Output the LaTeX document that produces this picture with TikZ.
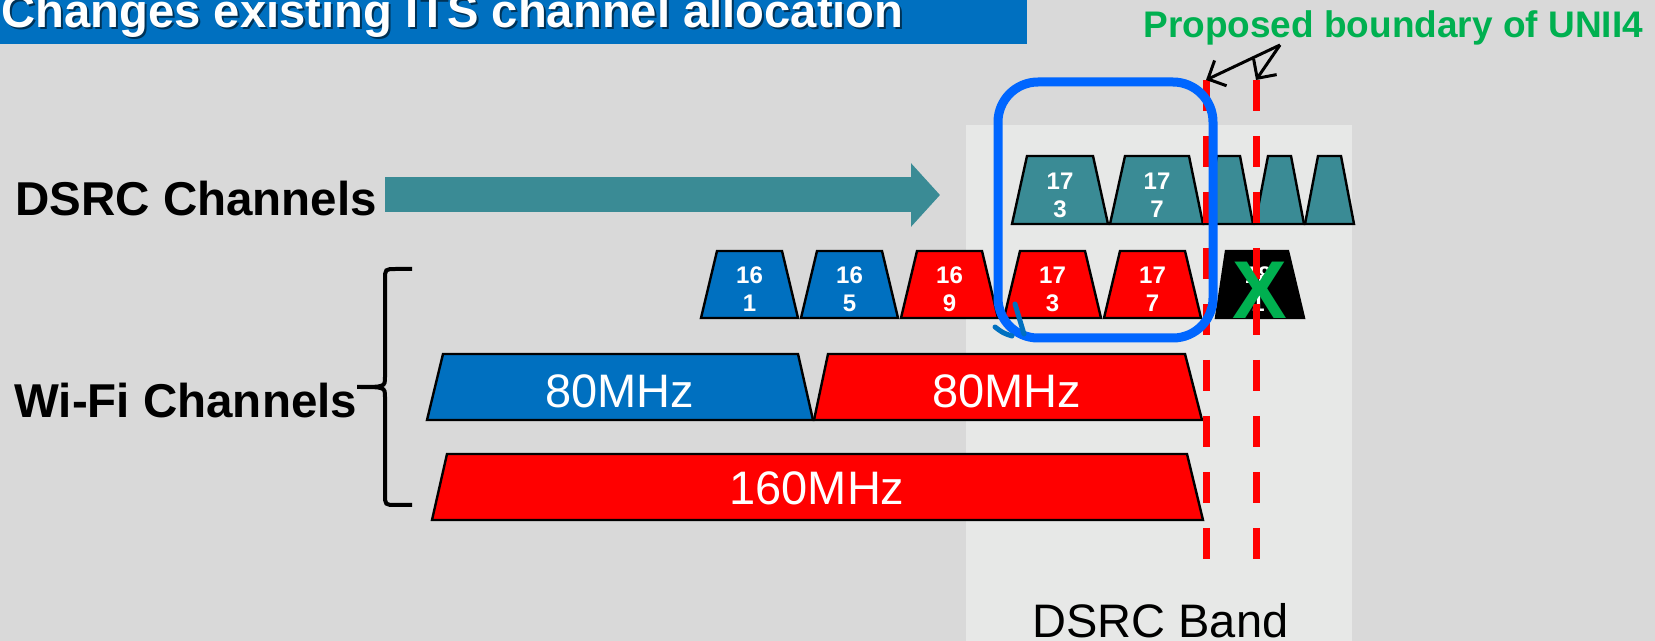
\documentclass[tikz,border=0pt]{standalone}
\usepackage{fontspec}
\setmainfont{Liberation Sans}
\usepackage{tikz}
\usetikzlibrary{arrows.meta}
\definecolor{slidegray}{HTML}{D9D9D9}
\definecolor{bandgray}{HTML}{E7E8E7}
\definecolor{wifiblue}{HTML}{0070C0}
\definecolor{wifired}{HTML}{FF0000}
\definecolor{dsrcteal}{HTML}{3A8B95}
\definecolor{markblue}{HTML}{0066FF}
\definecolor{uniigreen}{HTML}{00B050}

\tikzset{
  chan/.style={draw=black, line width=1.2pt},
  chanlbl/.style={text=white, font=\fontsize{12}{14}\selectfont\bfseries, align=center, inner sep=0pt},
  widelbl/.style={text=white, font=\fontsize{23.5}{28}\selectfont, inner sep=0pt},
  rowlbl/.style={font=\fontsize{23.75}{28}\selectfont\bfseries, anchor=base west, inner sep=0pt},
  boundary/.style={wifired, line width=3.5pt, dash pattern=on 15.5pt off 12.5pt},
}

\begin{document}
\begin{tikzpicture}[x=0.5pt, y=-0.5pt]
\useasboundingbox (0,0) rectangle (1655,641);
\clip (0,0) rectangle (1655,641);
\fill[slidegray] (0,0) rectangle (1655,641);
\fill[bandgray] (966,125) rectangle (1352,641);
\node[anchor=base west, inner sep=0pt] (band) at (1032,637) {\fontsize{23.5}{28}\selectfont DSRC Band};
% title bar
\fill[wifiblue] (0,0) rectangle (1027,44);
\node[anchor=base west, inner sep=0pt, text=black, opacity=0.55, font=\fontsize{23.6}{28}\selectfont\bfseries] (titleshadow) at (3,30) {Changes existing ITS channel allocation};
\node[anchor=base west, inner sep=0pt, text=white, font=\fontsize{23.6}{28}\selectfont\bfseries] (title) at (1,28) {Changes existing ITS channel allocation};
% row labels
\node[rowlbl] (dsrclbl) at (15,216) {DSRC Channels};
\node[rowlbl] (wifilbl) at (14,418) {Wi-Fi Channels};
\coordinate (arrS) at (385,195);
\coordinate (arrE) at (940,195);
\draw[dsrcteal, line width=17.5pt, -{Triangle[length=14.5pt, width=31pt]}] (arrS) -- (arrE);
\draw[line width=2pt] (412,269) -- (396,269) .. controls (385,269) .. (385,280) -- (385,377)
  .. controls (385,387) .. (357,387) .. controls (385,387) .. (385,397) -- (385,494)
  .. controls (385,505) .. (396,505) -- (412,505);
% DSRC channels
\draw[chan, fill=dsrcteal] (1012,224) -- (1027,156) -- (1093,156) -- (1108,224) -- cycle;
\node[chanlbl] (d173) at (1060,195) {17\\3};
\draw[chan, fill=dsrcteal] (1110,224) -- (1125,156) -- (1189,156) -- (1203,224) -- cycle;
\node[chanlbl] (d177) at (1157,195) {17\\7};
\foreach \xl in {1204,1255,1305}
  \draw[chan, fill=dsrcteal] (\xl,224) -- (\xl+13,156) -- (\xl+36,156) -- (\xl+49,224) -- cycle;
% Wi-Fi 20MHz channels
\foreach \xl/\fc/\na/\nb in {701/wifiblue/16/1, 801/wifiblue/16/5, 901/wifired/16/9, 1004/wifired/17/3, 1104/wifired/17/7}{
  \draw[chan, fill=\fc] (\xl,318) -- (\xl+16,251) -- (\xl+81,251) -- (\xl+97,318) -- cycle;
  \node[chanlbl] (w\na\nb) at (\xl+48.5,289.5) {\na\\\nb};
}
\draw[chan, fill=black] (1216,318) -- (1226,251) -- (1288,251) -- (1304,318) -- cycle;
\node[chanlbl] (w181) at (1258,289.5) {18\\1};
% Wi-Fi 80/160MHz channels
\draw[chan, fill=wifiblue] (427,420) -- (443,354) -- (798,354) -- (813,420) -- cycle;
\node[widelbl] (w80a) at (620,391) {80MHz};
\draw[chan, fill=wifired] (814,420) -- (828,354) -- (1185,354) -- (1202,420) -- cycle;
\node[widelbl] (w80b) at (1007,391) {80MHz};
\draw[chan, fill=wifired] (432,520) -- (447,454) -- (1187,454) -- (1203,520) -- cycle;
\node[widelbl] (w160) at (817,488) {160MHz};
% UNII4 boundary
\coordinate (bndA) at (1206,80);
\coordinate (bndB) at (1256,80);
\draw[boundary] (bndA) -- (1206,560);
\draw[boundary] (bndB) -- (1256,560);
\draw[markblue, line width=4.5pt, rounded corners=20pt] (998,82) rectangle (1213,338);
\draw[wifiblue, line width=2.5pt, line cap=round] (1015,304) -- (1024,334);
\draw[wifiblue, line width=2.5pt, line cap=round] (995,327) .. controls (1003,333) .. (1012,336);
\node[text=uniigreen, inner sep=0pt, font=\fontsize{41}{41}\selectfont\bfseries] (xmark) at (1260,290) {X};
\node[anchor=base west, inner sep=0pt, text=uniigreen, font=\fontsize{18.5}{22}\selectfont\bfseries] (unii) at (1143,38) {Proposed boundary of UNII4};
\coordinate (apex) at (1280,45);
\draw[line width=1.5pt, -{Straight Barb[length=7pt, width=14pt]}] (apex) -- (bndA);
\draw[line width=1.5pt, -{Straight Barb[length=7pt, width=14pt]}] (apex) -- (bndB);
\end{tikzpicture}
\end{document}
